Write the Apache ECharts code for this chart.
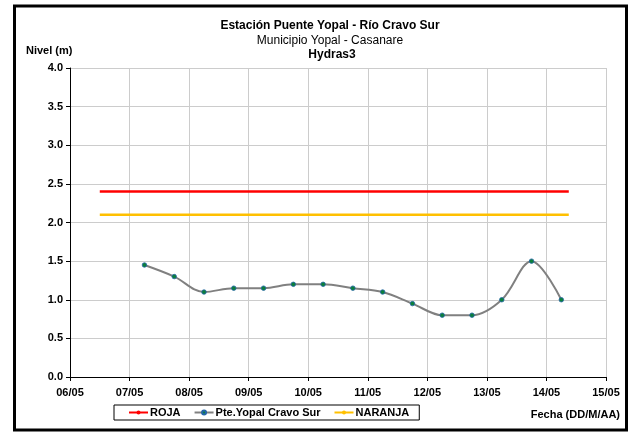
<!DOCTYPE html>
<html>
<head>
<meta charset="utf-8">
<script src="https://cdn.jsdelivr.net/npm/echarts@6/dist/echarts.min.js"></script>
<style>html,body{margin:0;padding:0;background:#fff}#c{width:633px;height:434px}</style>
</head>
<body>
<div id="c"></div>
<script>
// Tick labels for x axis (days from 06/05)
const tickLabels = ['06/05','07/05','08/05','09/05','10/05','11/05','12/05','13/05','14/05','15/05'];
// Observation times, in days after 06/05 00:00
const obsDays = [1.25,1.75,2.25,2.75,3.25,3.75,4.25,4.75,5.25,5.75,6.25,6.75,7.25,7.75,8.25];
// Water level (m)
const nivel = [1.45,1.30,1.10,1.15,1.15,1.20,1.20,1.15,1.10,0.95,0.80,0.80,1.00,1.50,1.00];
// Alert thresholds
const alertDays = [0.5, 8.375];
const roja = [2.4, 2.4];
const naranja = [2.1, 2.1];

const font = 'Liberation Sans, Arial, sans-serif';
const chart = echarts.init(document.getElementById('c'), null, {renderer:'canvas'});
chart.setOption({
  animation:false,
  backgroundColor:'#fff',
  title:[
    {text:'Estación Puente Yopal - Río Cravo Sur', left:325, top:15, textAlign:'center', textStyle:{fontFamily:font,fontSize:12,fontWeight:'bold',color:'#000'}},
    {text:'Municipio Yopal - Casanare', left:325, top:30, textAlign:'center', textStyle:{fontFamily:font,fontSize:12,fontWeight:'normal',color:'#000'}},
    {text:'Hydras3', left:327, top:44, textAlign:'center', textStyle:{fontFamily:font,fontSize:12,fontWeight:'bold',color:'#000'}},
    {text:'Nivel (m)', left:21, top:40, textStyle:{fontFamily:font,fontSize:11,fontWeight:'bold',color:'#000'}},
    {text:'Fecha (DD/M/AA)', right:8, top:404, textStyle:{fontFamily:font,fontSize:11,fontWeight:'bold',color:'#000'}}
  ],
  graphic:[{type:'rect', shape:{x:14.5,y:6,width:612,height:424}, style:{fill:'none',stroke:'#000',lineWidth:3}, silent:true}],
  legend:{
    left:114, top:405, orient:'horizontal',
    borderColor:'#000', borderWidth:1, padding:[2,10,2,14], itemGap:13,
    itemWidth:19, itemHeight:5,
    textStyle:{fontFamily:font,fontSize:11,fontWeight:'bold',color:'#000',padding:[0,0,0,-3]},
    data:['ROJA','Pte.Yopal Cravo Sur','NARANJA']
  },
  grid:{left:70, right:27, top:68, bottom:57, containLabel:false},
  xAxis:{
    type:'value', min:0, max:9, interval:1,
    axisLine:{show:true,onZero:false,lineStyle:{color:'#000',width:1}},
    axisTick:{show:true,length:4,lineStyle:{color:'#000'}},
    axisLabel:{formatter:v=>tickLabels[Math.round(v)], fontFamily:font,fontSize:11,fontWeight:'bold',color:'#000',margin:10},
    splitLine:{show:true,lineStyle:{color:'#cccccc',width:1}}
  },
  yAxis:{
    type:'value', min:0, max:4, interval:0.5,
    axisLine:{show:true,lineStyle:{color:'#000',width:1}},
    axisTick:{show:true,length:4,lineStyle:{color:'#000'}},
    axisLabel:{formatter:v=>v.toFixed(1), fontFamily:font,fontSize:11,fontWeight:'bold',color:'#000',margin:7},
    splitLine:{show:true,lineStyle:{color:'#cccccc',width:1}}
  },
  series:[
    {name:'ROJA', type:'line', data:alertDays.map((d,i)=>[d,roja[i]]), symbol:'none', lineStyle:{color:'#ff0000',width:2.5}, itemStyle:{color:'#ff0000'}, z:3},
    {name:'Pte.Yopal Cravo Sur', type:'line', smooth:0.35, data:obsDays.map((d,i)=>[d,nivel[i]]), symbol:'circle', symbolSize:4.5,
      lineStyle:{color:'#808080',width:2}, itemStyle:{color:'#0b7f3a',borderColor:'#2466a8',borderWidth:0.8}, z:4},
    {name:'NARANJA', type:'line', data:alertDays.map((d,i)=>[d,naranja[i]]), symbol:'none', lineStyle:{color:'#ffc000',width:2.5}, itemStyle:{color:'#ffc000'}, z:3}
  ]
});
</script>
</body>
</html>
